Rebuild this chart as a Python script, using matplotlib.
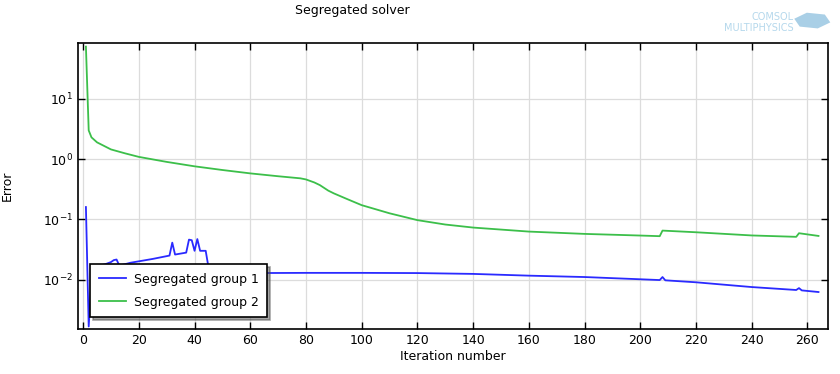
import matplotlib
matplotlib.use("Agg")
import matplotlib.pyplot as plt
from matplotlib.patches import RegularPolygon
from matplotlib.ticker import LogLocator, NullLocator, MultipleLocator

# values
green_iter = [1, 2, 3, 5, 10, 15, 20, 30, 40, 50, 60, 70, 78, 80, 83, 85, 88, 90, 95,
              100, 110, 120, 130, 140, 160, 180, 200, 207, 208, 220, 240, 256, 257, 264]
green_err = [74, 3.0, 2.3, 1.9, 1.45, 1.25, 1.09, 0.9, 0.76, 0.66, 0.58, 0.52, 0.48, 0.46,
             0.41, 0.37, 0.30, 0.27, 0.215, 0.172, 0.126, 0.097, 0.082, 0.073, 0.0626,
             0.0573, 0.0538, 0.0525, 0.065, 0.061, 0.054, 0.0512, 0.0588, 0.053]

blue_iter = [1, 2, 3, 4, 6, 8, 10, 11, 12, 13, 17, 25, 31, 32, 33, 37, 38, 39, 40, 41, 42,
             44, 45, 47, 60, 80, 100, 120, 140, 160, 180, 200, 207, 208, 209, 220, 240,
             256, 257, 258, 264]
blue_err = [0.16, 0.00166, 0.010, 0.014, 0.017, 0.018, 0.0195, 0.021, 0.0215, 0.017, 0.019,
            0.022, 0.025, 0.041, 0.026, 0.028, 0.046, 0.045, 0.030, 0.047, 0.030, 0.030,
            0.016, 0.013, 0.0128, 0.0129, 0.0129, 0.0128, 0.0124, 0.0116, 0.0110, 0.0101,
            0.0098, 0.0110, 0.0097, 0.0090, 0.0075, 0.0067, 0.0072, 0.0066, 0.0062]

labels = ['Segregated group 1', 'Segregated group 2']

fig = plt.figure(figsize=(8.4, 3.74), dpi=100)
ax = fig.add_axes([0.093, 0.120, 0.893, 0.765])

ax.plot(blue_iter, blue_err, color='#2a2aff', lw=1.3, label=labels[0])
ax.plot(green_iter, green_err, color='#3cbf4a', lw=1.3, label=labels[1])

ax.set_yscale('log')
ax.set_xlim(-1.8, 267.5)
ax.set_ylim(1.5e-3, 85)
ax.xaxis.set_major_locator(MultipleLocator(20))
ax.yaxis.set_major_locator(LogLocator(base=10))
ax.yaxis.set_minor_locator(NullLocator())

ax.grid(True, color='#dcdcdc', lw=0.9)
ax.set_axisbelow(True)
ax.tick_params(direction='in', top=True, right=True, labelsize=9, length=5, width=1)
for s in ax.spines.values():
    s.set_linewidth(1.2)

ax.set_xlabel('Iteration number', fontsize=9, labelpad=2)
ax.set_ylabel('Error', fontsize=9, labelpad=21)
fig.text(0.419, 0.972, 'Segregated solver', fontsize=9, ha='center', va='center')

leg = ax.legend(loc='lower left', bbox_to_anchor=(0.0075, 0.019), fontsize=9,
                fancybox=False, shadow=True, framealpha=1, edgecolor='black',
                borderpad=0.7, handlelength=2.2, handletextpad=0.6, labelspacing=0.8)
leg.get_frame().set_linewidth(1.2)

# logo
fig.text(0.945, 0.955, 'COMSOL', fontsize=7, color='#b5d8ec', ha='right', va='center')
fig.text(0.945, 0.925, 'MULTIPHYSICS', fontsize=7, color='#b5d8ec', ha='right', va='center')
fig.patches.append(RegularPolygon((0.967, 0.945), 6, radius=0.022, orientation=0.3,
                                  transform=fig.transFigure, facecolor='#a9cfe6',
                                  edgecolor='none'))

fig.savefig('out.png', dpi=100)
